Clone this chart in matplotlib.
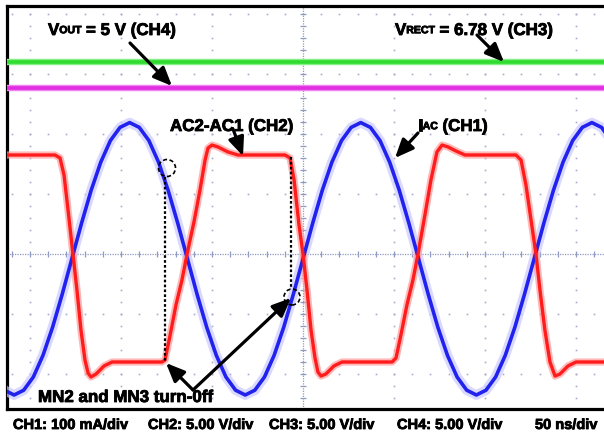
import numpy as np
import matplotlib
matplotlib.use("Agg")
import matplotlib.pyplot as plt
import matplotlib.patheffects as pe
from matplotlib.patches import Ellipse, ArrowStyle

# ---------------------------------------------------------------- data
# CH1: coil current I_AC (mA), sampled every 1/24 of the ~127 ns period
ch1_t_ns = np.arange(-32, 34) * (127.0 / 24.0)
ch1_ma = [-205, -227, -235, -227, -205, -169, -122, -67,
          -8, 51, 106, 153, 189, 211, 219, 211, 189, 153, 106, 51,
          -8, -67, -122, -169, -205, -227, -235, -227, -205, -169, -122, -67,
          -8, 51, 106, 153, 189, 211, 219, 211, 189, 153, 106, 51,
          -8, -67, -122, -169, -205, -227, -235, -227, -205, -169, -122, -67,
          -8, 51, 106, 153, 189, 211, 219, 211, 189, 153]

# CH2: rectifier input AC2-AC1 (V)
ch2_t_ns = [-162.6, -136.3, -133.5, -131.3, -129.1, -126.4, -124.2, -122.0,
            -119.8, -118.1, -116.5, -113.7, -109.3, -104.9, -77.5, -75.8,
            -73.1, -69.8, -66.5, -63.7, -59.9, -56.6, -53.8, -52.2, -50.0,
            -46.7, -41.2, -35.7, -9.9, -7.1, -4.9, -2.2, 0.0, 2.2, 4.4, 6.6,
            8.2, 9.9, 12.6, 17.0, 21.4, 48.9, 51.1, 53.8, 57.1, 60.4, 63.2,
            67.0, 70.3, 73.6, 76.4, 79.7, 84.1, 89.0, 117.0, 119.8, 122.5,
            125.3, 128.0, 130.2, 132.9, 135.7, 138.5, 141.2, 145.6, 150.0,
            168.7]
ch2_v = [8.25, 8.25, 8.0, 6.58, 3.67, 0.0, -3.0, -6.33,
         -8.83, -9.92, -10.25, -10.0, -9.33, -9.0, -9.0, -8.83,
         -6.83, -4.25, -2.17, 0.0, 2.67, 5.33, 7.83, 8.83, 9.08,
         8.92, 8.5, 8.25, 8.25, 8.0, 6.17, 2.42, 0.0, -3.0, -6.33, -8.67,
         -9.83, -10.17, -10.0, -9.33, -9.0, -9.0, -8.67, -6.75, -4.25, -2.17, 0.0,
         3.25, 6.17, 8.5, 9.08, 8.92, 8.58, 8.25, 8.25, 7.83, 5.75,
         2.83, 0.0, -3.0, -6.33, -9.0, -10.17, -10.0, -9.33, -9.0,
         -9.0]

# CH3 / CH4: DC rails (V) and their vertical position on screen (div)
ch3_vrect = 6.78
ch4_vout = 5.0
ch3_pos_div = 1.84
ch4_pos_div = 1.77

ch_scale = {"CH1": 100.0, "CH2": 5.0, "CH3": 5.0, "CH4": 5.0}
time_per_div_ns = 50.0
bottom_labels = ["CH1: 100 mA/div", "CH2: 5.00 V/div", "CH3: 5.00 V/div",
                 "CH4: 5.00 V/div", "50 ns/div"]

# ---------------------------------------------------------------- layout
W, H = 604, 436
PXX, PXY = 91.0, 60.0         # pixels per division
X0, Y0 = 303.0, 254.0         # screen centre in pixels
LEFT, TOP, BOTTOM = 6.5, 6.0, 408.5

def to_data(x, y):
    return (x - X0) / PXX * time_per_div_ns, (Y0 - y) / PXY

fig = plt.figure(figsize=(W / 100, H / 100), dpi=100)
fig.patch.set_facecolor("white")
ax = fig.add_axes([LEFT / W, 1 - BOTTOM / H, (W - LEFT) / W, (BOTTOM - TOP) / H])
xl, _ = to_data(LEFT, 0)
xr, _ = to_data(W, 0)
_, yt = to_data(0, TOP)
_, yb = to_data(0, BOTTOM)
ax.set_xlim(xl, xr)
ax.set_ylim(yb, yt)
ax.set_xticks([])
ax.set_yticks([])
for side in ("left", "top", "bottom"):
    ax.spines[side].set_linewidth(2.3)
    ax.spines[side].set_color("black")
ax.spines["right"].set_visible(False)

# ---------------------------------------------------------------- graticule
dot_c = "#a9abc9"
ns_div = time_per_div_ns
xs_fine = np.arange(-4, 4.01, 0.2) * ns_div
ys_fine = np.arange(-3, 4.61, 0.2)
for row in range(-3, 5):
    if row == 0:
        continue
    ax.plot(xs_fine, np.full_like(xs_fine, row), ls="none", marker="s",
            ms=1.2, mec="none", mfc=dot_c, zorder=1)
for col in range(-4, 5):
    if col == 0:
        continue
    ax.plot(np.full_like(ys_fine, col * ns_div), ys_fine, ls="none", marker="s",
            ms=1.2, mec="none", mfc=dot_c, zorder=1)
axis_c = "#8f9bc4"
ax.axhline(0, color=axis_c, lw=0.9, ls=(0, (1, 1)), zorder=1)
ax.axvline(0, color=axis_c, lw=0.9, ls=(0, (1, 1)), zorder=1)
ax.plot(xs_fine, np.zeros_like(xs_fine), ls="none", marker="|", ms=4,
        mew=0.9, color=axis_c, zorder=1)
ax.plot(np.zeros_like(ys_fine), ys_fine, ls="none", marker="_", ms=4,
        mew=0.9, color=axis_c, zorder=1)

# ---------------------------------------------------------------- traces
t_rail = [xl - 10, xr + 10]
y3 = ch3_vrect / ch_scale["CH3"] + ch3_pos_div
y4 = ch4_vout / ch_scale["CH4"] + ch4_pos_div
ax.plot(t_rail, [y3, y3], color="#86f086", lw=4.6, solid_capstyle="butt", zorder=3)
ax.plot(t_rail, [y3, y3], color="#2fdc2f", lw=2.6, solid_capstyle="butt", zorder=3)
ax.plot(t_rail, [y4, y4], color="#f280f2", lw=4.6, solid_capstyle="butt", zorder=3)
ax.plot(t_rail, [y4, y4], color="#e22ee2", lw=2.6, solid_capstyle="butt", zorder=3)

y1 = np.asarray(ch1_ma) / ch_scale["CH1"]
ax.plot(ch1_t_ns, y1, color="#c9c9ff", lw=7.0, alpha=0.7, zorder=4,
        solid_joinstyle="round")
ax.plot(ch1_t_ns, y1, color="#2222ee", lw=2.6, zorder=5, solid_joinstyle="round")

y2 = np.asarray(ch2_v) / ch_scale["CH2"]
ax.plot(ch2_t_ns, y2, color="#ff9a9a", lw=5.2, alpha=0.7, zorder=4,
        solid_joinstyle="round")
ax.plot(ch2_t_ns, y2, color="#ff1c1c", lw=2.4, zorder=5, solid_joinstyle="round")

# ---------------------------------------------------------------- markers
def vline_px(x, y1p, y2p):
    (xa, ya), (_, yb2) = to_data(x, y1p), to_data(x, y2p)
    ax.plot([xa, xa], [ya, yb2], color="black", lw=1.6, ls=(0, (1.2, 1.0)), zorder=6)

def circle_px(x, y, r):
    cx, cy = to_data(x, y)
    ax.add_patch(Ellipse((cx, cy), 2 * r / PXX * ns_div, 2 * r / PXY,
                         fill=False, ec="black", lw=1.2, ls=(0, (2.5, 1.5)), zorder=6))

vline_px(165, 177, 361)
vline_px(291, 157, 289)
circle_px(167, 168, 8.5)
circle_px(292, 297, 8)

head = ArrowStyle("-|>", head_length=0.7, head_width=0.3)

def arrow_px(x0, y0, x1, y1):
    ax.annotate("", xy=(x1, H - y1), xytext=(x0, H - y0),
                xycoords="figure pixels", textcoords="figure pixels",
                arrowprops=dict(arrowstyle=head, color="black", lw=2.3,
                                mutation_scale=16, shrinkA=0, shrinkB=0),
                zorder=7)

arrow_px(130, 43, 172, 86)
arrow_px(477, 35, 504, 62)
arrow_px(233, 129, 243, 156)
arrow_px(418, 133, 395, 158)
arrow_px(193, 390, 166, 363)
arrow_px(193, 390, 291, 298)

# ---------------------------------------------------------------- labels
renderer = fig.canvas.get_renderer()
FAM = "Liberation Sans"
heavy = [pe.withStroke(linewidth=0.6, foreground="black")]

def rich_text(x, y, pieces):
    for s, size, dy in pieces:
        t = fig.text(x / W, (H - y - dy) / H, s, fontsize=size, fontweight="bold",
                     family=FAM, ha="left", va="baseline", color="black", zorder=8,
                     path_effects=heavy)
        x += t.get_window_extent(renderer).width

MAIN, SUB = 12.2, 7.6
rich_text(48, 35, [("V", MAIN, 0), ("OUT", SUB, -1.8), (" = 5 V (CH4)", MAIN, 0)])
rich_text(395, 35, [("V", MAIN, 0), ("RECT", SUB, -1.8), (" = 6.78 V (CH3)", MAIN, 0)])
rich_text(170, 131, [("AC2-AC1 (CH2)", MAIN, 0)])
rich_text(418, 131, [("I", MAIN, 0), ("AC", SUB, -1.8), (" (CH1)", MAIN, 0)])
rich_text(38, 402, [("MN2 and MN3 turn-0ff", MAIN, 0)])

for lbl, xpos in zip(bottom_labels, [13, 148, 269, 397, 535]):
    rich_text(xpos, 429, [(lbl, 10.5, 0)])

fig.savefig("out.png", dpi=100, facecolor="white")
